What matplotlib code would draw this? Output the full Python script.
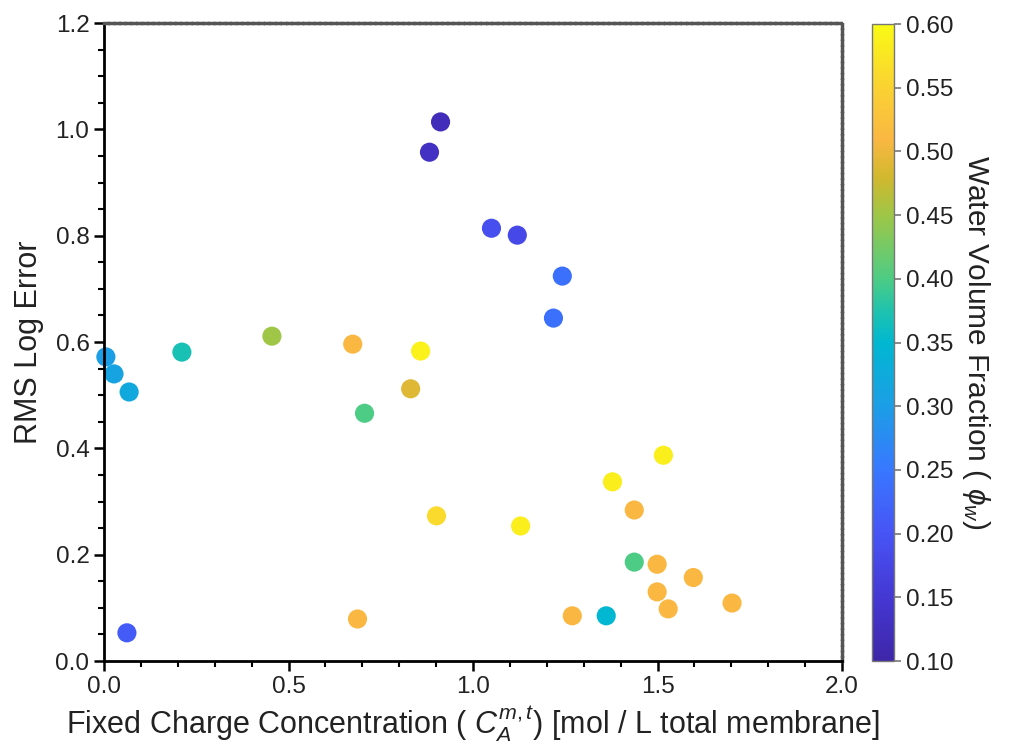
import matplotlib
matplotlib.use("Agg")
import matplotlib.pyplot as plt
from matplotlib.colors import LinearSegmentedColormap
from matplotlib.ticker import MultipleLocator, FormatStrFormatter

plt.rcParams['font.family'] = 'Liberation Sans'
plt.rcParams['mathtext.fontset'] = 'custom'
plt.rcParams['mathtext.rm'] = 'Liberation Sans'
plt.rcParams['mathtext.it'] = 'Liberation Sans:italic'

# data
charge_conc = [0.005, 0.027, 0.068, 0.062, 0.211, 0.455, 0.674, 0.706, 0.687,
               0.831, 0.858, 0.901, 0.912, 0.882, 1.050, 1.120, 1.242, 1.218,
               1.129, 1.269, 1.361, 1.378, 1.437, 1.437, 1.516, 1.499, 1.499,
               1.529, 1.597, 1.702]
rms_log_error = [0.572, 0.540, 0.506, 0.053, 0.581, 0.611, 0.596, 0.466, 0.079,
                 0.512, 0.583, 0.273, 1.014, 0.957, 0.814, 0.801, 0.724, 0.645,
                 0.254, 0.085, 0.085, 0.337, 0.284, 0.186, 0.387, 0.182, 0.130,
                 0.098, 0.157, 0.109]
water_frac = [0.30, 0.31, 0.32, 0.21, 0.37, 0.45, 0.51, 0.40, 0.51,
              0.49, 0.59, 0.56, 0.12, 0.13, 0.19, 0.18, 0.24, 0.24,
              0.585, 0.51, 0.35, 0.585, 0.51, 0.40, 0.585, 0.51, 0.51,
              0.51, 0.51, 0.51]

# parula-like colormap
parula_stops = [
    (0.0, (0.2422, 0.1504, 0.6603)),
    (0.1, (0.27, 0.22, 0.83)),
    (0.2, (0.28, 0.33, 0.96)),
    (0.3, (0.22, 0.47, 1.0)),
    (0.4, (0.11, 0.62, 0.90)),
    (0.5, (0.0, 0.72, 0.82)),
    (0.55, (0.12, 0.76, 0.68)),
    (0.6, (0.30, 0.80, 0.52)),
    (0.7, (0.62, 0.78, 0.28)),
    (0.76, (0.82, 0.72, 0.18)),
    (0.82, (0.98, 0.72, 0.26)),
    (0.9, (0.98, 0.82, 0.20)),
    (1.0, (0.98, 0.98, 0.08)),
]
parula = LinearSegmentedColormap.from_list('parula', parula_stops)

fig = plt.figure(figsize=(10.13, 7.55), dpi=100)
ax = fig.add_axes([0.1027, 0.1245, 0.7285, 0.845])
cax = fig.add_axes([0.861, 0.1245, 0.0217, 0.8437])

sc = ax.scatter(charge_conc, rms_log_error, c=water_frac, cmap=parula,
                vmin=0.1, vmax=0.6, s=190, edgecolors='none', clip_on=False)

ax.set_xlim(0, 2.0)
ax.set_ylim(0, 1.2)
ax.xaxis.set_major_locator(MultipleLocator(0.5))
ax.xaxis.set_minor_locator(MultipleLocator(0.1))
ax.yaxis.set_major_locator(MultipleLocator(0.2))
ax.yaxis.set_minor_locator(MultipleLocator(0.05))
ax.xaxis.set_major_formatter(FormatStrFormatter('%.1f'))
ax.yaxis.set_major_formatter(FormatStrFormatter('%.1f'))
ax.tick_params(which='major', direction='out', length=7, width=1.8, labelsize=17.5, colors='black')
ax.tick_params(which='minor', direction='out', length=4, width=1.5)
ax.tick_params(axis='both', labelcolor='#222222')

for side in ['left', 'bottom']:
    ax.spines[side].set_linewidth(2)
for side in ['top', 'right']:
    ax.spines[side].set_color('#555555')
    ax.spines[side].set_linewidth(2.5)
    ax.spines[side].set_linestyle((0, (1, 0.6)))

ax.set_xlabel(r"Fixed Charge Concentration ( $C_A^{m,t}$) [mol / L total membrane]",
              fontsize=22, color='#222222', labelpad=4)
ax.set_ylabel("RMS Log Error", fontsize=22, color='#222222', labelpad=8)

cb = fig.colorbar(sc, cax=cax)
cb.set_ticks([0.10, 0.15, 0.20, 0.25, 0.30, 0.35, 0.40, 0.45, 0.50, 0.55, 0.60])
cb.ax.yaxis.set_major_formatter(FormatStrFormatter('%.2f'))
cb.ax.tick_params(direction='out', length=5, width=1.2, labelsize=17.5, labelcolor='#222222', color='#777777')
cb.outline.set_edgecolor('#777777')
cb.outline.set_linewidth(1)
cb.set_label(r"Water Volume Fraction ( $\phi_w$)", rotation=270, fontsize=21.5,
             color='#222222', labelpad=28)

fig.savefig("out.png", dpi=100)
